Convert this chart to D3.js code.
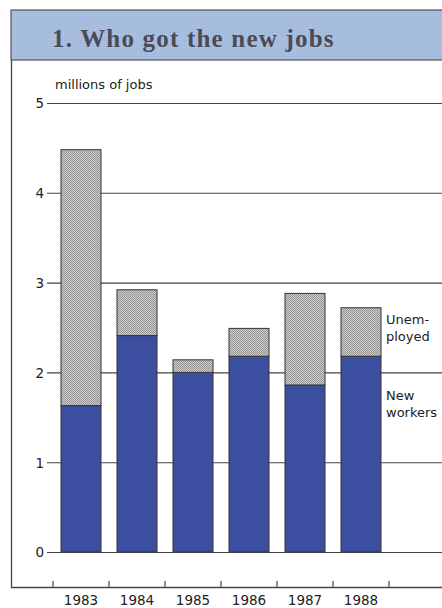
<!DOCTYPE html>
<html>
<head>
<meta charset="utf-8">
<script src="https://cdn.jsdelivr.net/npm/d3@7"></script>
<style>
  html, body { margin: 0; padding: 0; background: #ffffff; }
  svg { display: block; }
</style>
</head>
<body>
<svg id="chart" width="442" height="608"></svg>
<script>
// Who got the new jobs, millions of jobs per year
const years = ["1983", "1984", "1985", "1986", "1987", "1988"];
const newWorkers = [1.63, 2.41, 2.00, 2.18, 1.86, 2.18];
const unemployed = [2.85, 0.51, 0.14, 0.31, 1.02, 0.54];
const yTicks = [0, 1, 2, 3, 4, 5];

const svg = d3.select("#chart");
const font = "'DejaVu Sans', Verdana, sans-serif";

// dotted grey fill for the unemployed segment
const defs = svg.append("defs");
const pat = defs.append("pattern").attr("id", "dots")
  .attr("width", 2).attr("height", 2).attr("patternUnits", "userSpaceOnUse");
pat.append("rect").attr("width", 2).attr("height", 2).attr("fill", "#cdcdcd");
pat.append("rect").attr("width", 1).attr("height", 1).attr("fill", "#959595");
pat.append("rect").attr("x", 1).attr("y", 1).attr("width", 1).attr("height", 1).attr("fill", "#959595");

// fine texture for the title band
const tpat = defs.append("pattern").attr("id", "band")
  .attr("width", 2).attr("height", 2).attr("patternUnits", "userSpaceOnUse");
tpat.append("rect").attr("width", 2).attr("height", 2).attr("fill", "#abc0dc");
tpat.append("rect").attr("width", 1).attr("height", 1).attr("fill", "#9db3d3");

// title band
svg.append("rect").attr("x", 11).attr("y", 10).attr("width", 440).attr("height", 50)
  .attr("fill", "url(#band)").attr("stroke", "#555").attr("stroke-width", 1.2);
svg.append("text").attr("x", 52).attr("y", 47)
  .attr("font-family", "'Liberation Serif', 'Times New Roman', serif")
  .attr("font-weight", "bold").attr("font-size", 25).attr("letter-spacing", 1.2)
  .attr("fill", "#4b4b58")
  .text("1. Who got the new jobs");

// frame below the title
svg.append("path").attr("d", "M11.5,60 V587.5 H442")
  .attr("fill", "none").attr("stroke", "#444").attr("stroke-width", 1.3);

const x = d3.scaleBand().domain(years).range([53, 389])
  .paddingInner(16 / 56).paddingOuter(8 / 56);
const y = d3.scaleLinear().domain([0, 5]).range([552, 103]);

// horizontal grid lines with left tick labels
const yAxis = d3.axisLeft(y).tickValues(yTicks).tickFormat(d3.format("d"))
  .tickSize(0).tickPadding(0);
const gy = svg.append("g").attr("transform", "translate(53,0)");
gy.call(yAxis);
gy.select(".domain").remove();
gy.selectAll(".tick text").attr("x", -9).attr("dy", "0.36em")
  .attr("font-family", font).attr("font-size", 13.5).attr("fill", "#222");
gy.selectAll(".tick line").attr("x1", -6).attr("x2", 442 - 53)
  .attr("stroke", "#444").attr("stroke-width", 1.1);

svg.append("text").attr("x", 55).attr("y", 89)
  .attr("font-family", font).attr("font-size", 13).attr("fill", "#222")
  .text("millions of jobs");

// stacked bars
const rows = years.map((yr, i) => ({ yr, a: newWorkers[i], b: unemployed[i] }));
const stack = d3.stack().keys(["a", "b"])(rows);
const fills = { a: "#3b4ea0", b: "url(#dots)" };
svg.append("g").selectAll("g").data(stack).join("g")
  .attr("fill", d => fills[d.key])
  .selectAll("rect").data(d => d).join("rect")
  .attr("x", d => x(d.data.yr))
  .attr("width", x.bandwidth())
  .attr("y", d => y(d[1]))
  .attr("height", d => y(d[0]) - y(d[1]))
  .attr("stroke", "#333").attr("stroke-width", 1);

// bottom category axis with ticks at band boundaries
const bounds = years.map(yr => x(yr) - x.step() * x.paddingInner() / 2)
  .concat([x(years[years.length - 1]) + x.bandwidth() + x.step() * x.paddingInner() / 2]);
svg.append("g").selectAll("line").data(bounds).join("line")
  .attr("x1", d => d).attr("x2", d => d).attr("y1", 581).attr("y2", 587.5)
  .attr("stroke", "#444").attr("stroke-width", 1.2);
svg.append("g").selectAll("text").data(years).join("text")
  .attr("x", d => x(d) + x.bandwidth() / 2).attr("y", 605)
  .attr("text-anchor", "middle")
  .attr("font-family", font).attr("font-size", 13.5).attr("fill", "#222")
  .text(d => d);

// series labels beside the last bar
const last = years.length - 1;
const lx = x(years[last]) + x.bandwidth() + 5;
const topMid = y(newWorkers[last] + unemployed[last] / 2);
[["Unem-", topMid - 8], ["ployed", topMid + 9], ["New", y(newWorkers[last]) + 44], ["workers", y(newWorkers[last]) + 61]]
  .forEach(([t, yy]) => {
    svg.append("text").attr("x", lx).attr("y", yy)
      .attr("font-family", font).attr("font-size", 13)
      .attr("fill", "#222").text(t);
  });
</script>
</body>
</html>
